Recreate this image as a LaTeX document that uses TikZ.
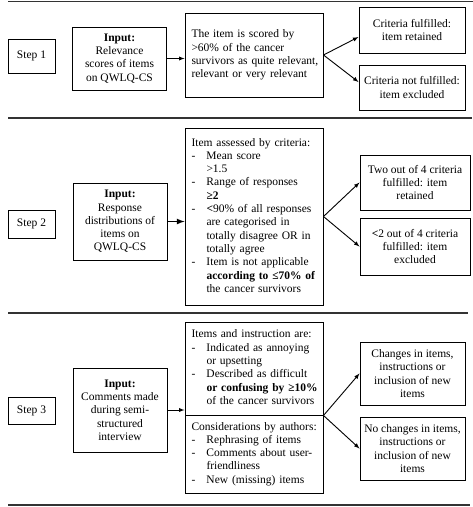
\documentclass[tikz,border=0pt]{standalone}
\usepackage{fontspec}
\setmainfont{Liberation Serif}
\usetikzlibrary{arrows}
\newcommand{\dsh}{\makebox[15pt][l]{-}}
\newcommand{\ind}{\hspace*{15pt}}
\newenvironment{lines}{\begin{tabular}{@{}l@{}}}{\end{tabular}}

\begin{document}
\begin{tikzpicture}[x=1pt,y=-1pt]
\tikzstyle{every node}=[font=\fontsize{11.5}{13.3}\selectfont]
\tikzstyle{stepbox}=[rectangle, draw=black, line width=1pt, minimum width=47pt]
\tikzstyle{inbox}=[rectangle, draw=black, line width=1pt, align=center, minimum width=94pt, inner sep=2pt]
\tikzstyle{critbox}=[rectangle, draw=black, line width=1pt, text width=125pt, align=left, inner xsep=6.5pt, inner ysep=2pt, minimum width=138pt]
\tikzstyle{outbox}=[rectangle, draw=black, line width=1pt, align=center, inner sep=2pt]
\tikzstyle{connect}=[-latex, line width=0.9pt]
\tikzstyle{sepline}=[line width=1.2pt, black!80]

\useasboundingbox (0,0) rectangle (473,507);

% separators
\draw[sepline] (8,1.5) -- (473,1.5);
\draw[sepline] (8,118) -- (472,118);
\draw[sepline] (8,313) -- (468,313);
\draw[sepline] (8,505) -- (470,505);

% step 1
\node[stepbox, minimum height=34pt] (step1) at (31.5,56) {Step 1};
\node[inbox, minimum height=63pt] (in1) at (119.5,58.5) {\textbf{Input:}\\ Relevance\\ scores of items\\ on QWLQ-CS};
\node[critbox, minimum height=84pt] (crit1) at (254,55) {\begin{lines}The item is scored by\\ >60\% of the cancer\\ survivors as quite relevant,\\ relevant or very relevant\end{lines}};
\node[outbox, minimum width=106pt, minimum height=46pt] (ok1) at (412,30) {Criteria fulfilled:\\ item retained};
\node[outbox, minimum width=106pt, minimum height=45pt] (no1) at (412,87.5) {Criteria not fulfilled:\\ item excluded};

% step 2
\node[stepbox, minimum height=28pt] (step2) at (31.5,224) {Step 2};
\node[inbox, minimum height=77pt] (in2) at (120,221.5) {\textbf{Input:}\\ Response\\ distributions of\\ items on\\ QWLQ-CS};
\node[critbox, minimum height=177pt] (crit2) at (254,216.5) {\begin{lines}Item assessed by criteria:\\
\dsh Mean score\\
\ind >1.5\\
\dsh Range of responses\\
\ind \textbf{≥2}\\
\dsh \textbf{<}90\% of all responses\\
\ind are categorised in\\
\ind totally disagree OR in\\
\ind totally agree\\
\dsh Item is not applicable\\
\ind \textbf{according to ≤70\% of}\\
\ind the cancer survivors\end{lines}};
\node[outbox, minimum width=110pt, minimum height=55pt] (ok2) at (415,182.5) {Two out of 4 criteria\\ fulfilled: item\\ retained};
\node[outbox, minimum width=110pt, minimum height=57pt] (no2) at (415,246.5) {\textbf{<}2 out of 4 criteria\\ fulfilled: item\\ excluded};

% step 3
\node[stepbox, minimum height=27pt] (step3) at (31.5,410.5) {Step 3};
\node[inbox, minimum height=84pt] (in3) at (120,410) {\textbf{Input:}\\ Comments made\\ during semi-\\ structured\\ interview};
\node[critbox, minimum height=93pt] (crit3a) at (254,368.5) {\begin{lines}Items and instruction are:\\
\dsh Indicated as annoying\\
\ind or upsetting\\
\dsh Described as difficult\\
\ind \textbf{or confusing by ≥10\%}\\
\ind of the cancer survivors\end{lines}};
\node[critbox, minimum height=78pt] (crit3b) at (254,454) {\begin{lines}Considerations by authors:\\
\dsh Rephrasing of items\\
\dsh Comments about user-\\
\ind friendliness\\
\dsh New (missing) items\end{lines}};
\node[outbox, minimum width=105pt, minimum height=63pt] (ok3) at (412.5,373.5) {Changes in items,\\ instructions or\\ inclusion of new\\ items};
\node[outbox, minimum width=105pt, minimum height=63pt] (no3) at (412.5,448.5) {No changes in items,\\ instructions or\\ inclusion of new\\ items};

\draw[connect] (in1.east) -- (in1.east -| crit1.west);
\draw[connect, line width=1.6pt] (in2.east) -- (in2.east -| crit2.west);
\draw[connect] (in3.east) -- (in3.east -| crit3a.west);

\draw[connect] (crit1.east) -- ([yshift=-7pt]ok1.west);
\draw[connect] (crit1.east) -- ([yshift=5.5pt]no1.west);
\draw[connect] (crit2.east) -- (ok2.west);
\draw[connect] (crit2.east) -- (no2.west);
\draw[connect] (crit3a.south east) -- (ok3.west);
\draw[connect] (crit3a.south east) -- (no3.west);
\end{tikzpicture}
\end{document}
